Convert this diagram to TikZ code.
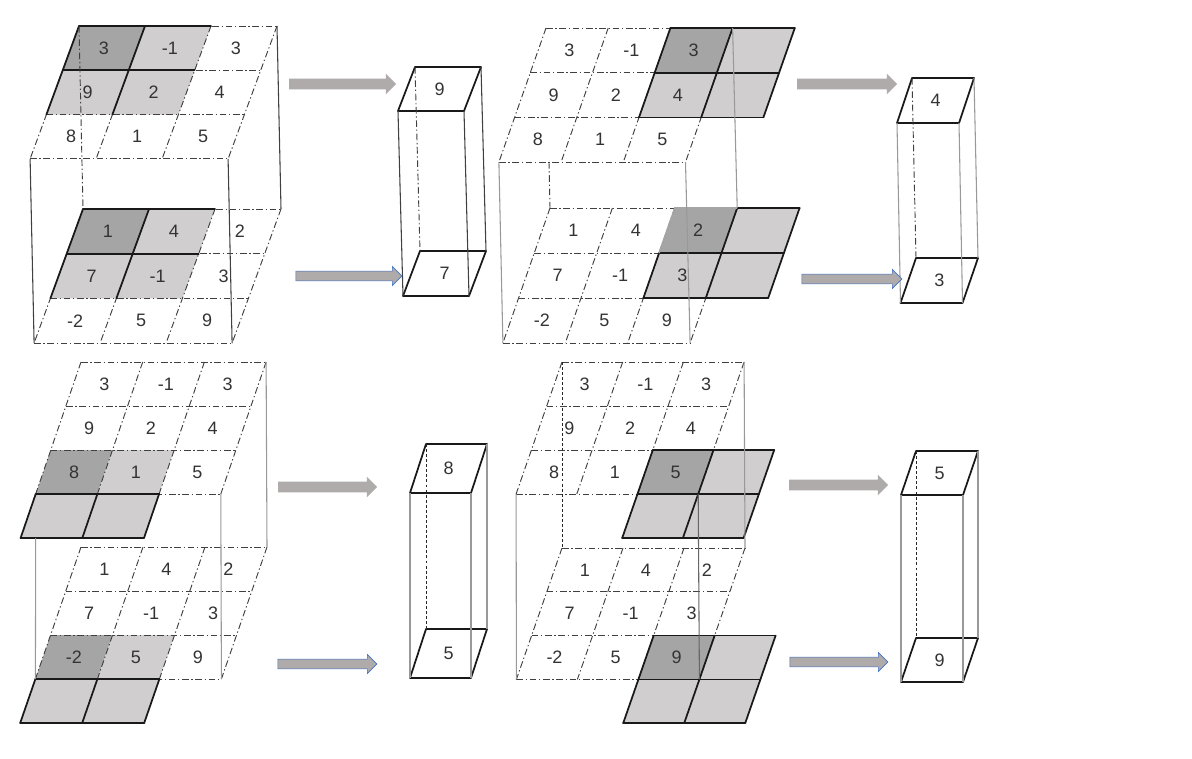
\documentclass[tikz,border=0pt]{standalone}
\usepackage{fontspec}
\setmainfont{Liberation Sans}
\usetikzlibrary{calc, backgrounds, shapes.arrows}
\definecolor{darkcell}{HTML}{A5A5A5}
\definecolor{lightcell}{HTML}{D0CECE}
\definecolor{arrowgray}{HTML}{AFABAB}
\definecolor{arrowblue}{HTML}{4472C4}
\tikzset{
  tilt/.style n args={5}{shift={(#1,#2)}, x={({#3*0.75pt},0pt)}, y={({-#5*0.75pt},{-#4*0.75pt})}},
  num/.style={font=\fontsize{13.5}{15}\selectfont, text=black!80, inner sep=0pt},
  bold/.style={black!90, line width=1.3pt, line cap=round, line join=round},
  dd/.style={black!75, line width=0.7pt, dash pattern=on 5pt off 2pt on 1pt off 2pt},
  hid/.style={black!85, line width=0.7pt, dash pattern=on 2.2pt off 1.6pt},
  edge/.style={black!75, line width=0.8pt},
  pale/.style={black!40, line width=0.8pt},
  fatarrow/.style={single arrow, fill=arrowgray, inner xsep=0pt, inner ysep=3.75pt, minimum width=15pt,
                   single arrow head extend=3.75pt, minimum height=#1*0.75pt, xshift=-1.9pt},
  bluearrow/.style={fatarrow=#1, draw=arrowblue, line width=0.5pt, inner ysep=3.4pt, minimum width=14pt,
                    single arrow head extend=3.5pt}
}
% #1 name, #2 values, #3 dark cell, #4 light cells, #5 bold segments
\newcommand{\celllayer}[5]{
  \foreach \col in {0,...,4} \foreach \row in {0,...,4} \coordinate (#1-\col-\row) at (\col,\row);
  \foreach \col/\row in {#3} \fill[darkcell] (\col,\row) -- ++(1,0) -- ++(0,1) -- ++(-1,0) -- cycle;
  \foreach \col/\row in {#4} \fill[lightcell] (\col,\row) -- ++(1,0) -- ++(0,1) -- ++(-1,0) -- cycle;
  \foreach \i in {0,...,3} {
    \draw[dd] (\i,0) -- (\i,3);
    \draw[dd] (0,\i) -- (3,\i);
  }
  \foreach \a/\b/\c/\d in {#5} \draw[bold] (\a,\b) -- (\c,\d);
  \foreach \v [count=\i from 0] in {#2} {
    \pgfmathtruncatemacro\col{mod(\i,3)}
    \pgfmathtruncatemacro\row{div(\i,3)}
    \node[num] (#1-n\i) at (\col+0.5,\row+0.5) {\v};
  }
}
% one face of a result box
\newcommand{\boxface}[2]{
  \coordinate (#1-a) at (0,0); \coordinate (#1-b) at (1,0);
  \coordinate (#1-c) at (1,1); \coordinate (#1-d) at (0,1);
  \draw[bold] (#1-a) -- (#1-b) -- (#1-c) -- (#1-d) -- cycle;
  \node[num] (#1-n) at (0.5,0.5) {#2};
}
\begin{document}
\begin{tikzpicture}[x=0.75pt, y=-0.75pt]
\path[use as bounding box, fill=white] (0,0) rectangle (1192,759);

% panel 1
\begin{scope}[tilt={79}{26}{66}{44.3}{16.3}]
  \celllayer{pat}{3,-1,3,9,2,4,8,1,5}{0/0}{1/0,0/1,1/1}{0/0/2/0,0/0/0/2,1/0/1/2,0/1/2/1}
\end{scope}
\begin{scope}[tilt={83}{209}{66}{44.7}{16.3}]
  \celllayer{pab}{1,4,2,7,-1,3,-2,5,9}{0/0}{1/0,0/1,1/1}{0/0/2/0,0/0/0/2,1/0/1/2,0/1/2/1}
\end{scope}
\draw[edge] (pat-0-3) -- (pab-0-3);
\draw[edge] (pat-3-3) -- (pab-3-3);
\draw[edge] (pat-3-0) -- (pab-3-0);
\draw[dd] (pat-0-0) -- (pab-0-0);

% panel 2
\begin{scope}[tilt={546}{28}{62.2}{44.7}{15.7}]
  \celllayer{pbt}{3,-1,3,9,2,4,8,1,5}{2/0}{3/0,2/1,3/1}{2/0/4/0,2/0/2/2,3/0/3/2,4/0/4/2,2/1/4/1,2/2/4/2}
\end{scope}
\begin{scope}[tilt={550}{208}{62.4}{45}{15.7}]
  \celllayer{pbb}{1,4,2,7,-1,3,-2,5,9}{2/0}{3/0,2/1,3/1}{3/0/4/0,3/0/3/2,4/0/4/2,2/1/4/1,2/1/2/2,2/2/4/2}
  \draw[darkcell, line width=1.2pt] (2,1) -- (2,0) -- (3,0);
\end{scope}
\draw[pale] (pbt-0-3) -- (pbb-0-3);
\draw[pale] (pbt-3-3) -- (pbb-3-3);
\draw[pale] (pbt-3-0) -- (pbb-3-0);
\draw[dd] ($(pbt-0-0)!0.744!(pbb-0-0)$) -- (pbb-0-0);

% panel 3
\begin{scope}[tilt={81}{362}{61.7}{44}{15.1}]
  \celllayer{pct}{3,-1,3,9,2,4,8,1,5}{0/2}{1/2,0/3,1/3}{0/3/2/3,0/3/0/4,1/3/1/4,2/3/2/4,0/4/2/4}
\end{scope}
\begin{scope}[tilt={81}{547}{62}{44}{15.2}]
  \celllayer{pcb}{1,4,2,7,-1,3,-2,5,9}{0/2}{1/2,0/3,1/3}{0/3/2/3,0/3/0/4,1/3/1/4,2/3/2/4,0/4/2/4}
\end{scope}
\begin{scope}[on background layer]
  \draw[hid] (pct-0-0) -- (pcb-0-0);
\end{scope}
\draw[pale] (pct-3-0) -- (pcb-3-0);
\draw[pale] (pct-3-3) -- (pcb-3-3);
\draw[pale] (pct-0-3 |- pct-0-4) -- (pcb-0-3);

% panel 4
\begin{scope}[tilt={562}{362}{60.7}{44}{15.3}]
  \celllayer{pdt}{3,-1,3,9,2,4,8,1,5}{2/2}{3/2,2/3,3/3}{2/2/4/2,2/2/2/4,3/2/3/4,4/2/4/4,2/3/4/3,2/4/4/4}
\end{scope}
\begin{scope}[tilt={562}{548}{61}{43.8}{15.2}]
  \celllayer{pdb}{1,4,2,7,-1,3,-2,5,9}{2/2}{3/2,2/3,3/3}{2/2/4/2,2/2/2/4,3/2/3/4,4/2/4/4,2/3/4/3,2/4/4/4}
\end{scope}
\draw[hid] (pdt-0-0) -- (pdb-0-0);
\draw[pale] (pdt-0-3) -- (pdb-0-3);
\draw[pale] (pdt-3-0) -- (pdb-3-0);
\draw[edge, black!60] (pdt-3-3) -- (pdb-3-3);

% result boxes
\begin{scope}[tilt={415}{67}{66}{44}{17}] \boxface{bat}{9} \end{scope}
\begin{scope}[tilt={420}{251}{66}{45}{17}] \boxface{bab}{7} \end{scope}
\foreach \f in {b,c,d} \draw[edge] (bat-\f) -- (bab-\f);
\draw[dd] (bat-a) -- (bab-a);

\begin{scope}[tilt={912}{78}{62}{45}{15}] \boxface{bbt}{4} \end{scope}
\begin{scope}[tilt={916}{258}{62}{45}{15.5}] \boxface{bbb}{3} \end{scope}
\foreach \f in {b,c,d} \draw[pale] (bbt-\f) -- (bbb-\f);
\draw[dd] (bbt-a) -- (bbb-a);

\begin{scope}[tilt={426}{444}{61}{49}{16}] \boxface{bct}{8} \end{scope}
\begin{scope}[tilt={426}{629}{61}{49}{16}] \boxface{bcb}{5} \end{scope}
\foreach \f in {b,c,d} \draw[pale] (bct-\f) -- (bcb-\f);
\draw[hid] (bct-a) -- (bcb-a);

\begin{scope}[tilt={916}{451}{62}{44}{15}] \boxface{bdt}{5} \end{scope}
\begin{scope}[tilt={916}{638}{62}{44}{15}] \boxface{bdb}{9} \end{scope}
\foreach \f in {b,c,d} \draw[pale] (bdt-\f) -- (bdb-\f);
\draw[hid] (bdt-a) -- (bdb-a);

% arrows
\node[fatarrow=107] (aat) at (342.5,84) {};
\node[bluearrow=106] (aab) at (349,276) {};
\node[fatarrow=100] (abt) at (847,84) {};
\node[bluearrow=100] (abb) at (852,279) {};
\node[fatarrow=99] (act) at (327.5,487) {};
\node[bluearrow=99] (acb) at (327.5,664) {};
\node[fatarrow=99] (adt) at (838.5,485) {};
\node[bluearrow=98] (adb) at (839,662) {};
\end{tikzpicture}
\end{document}
